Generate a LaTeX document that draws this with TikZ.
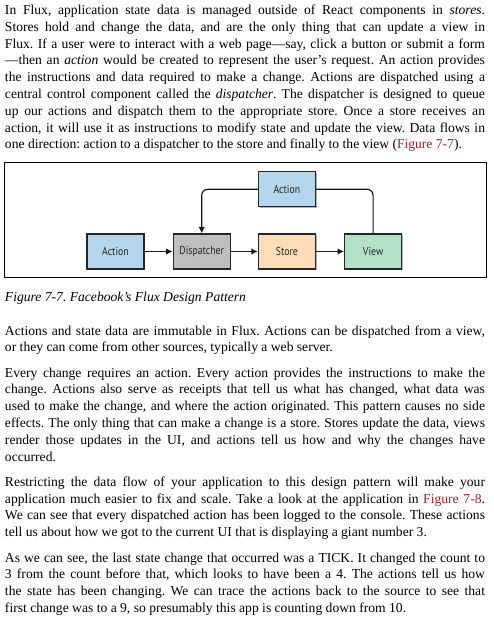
\documentclass[tikz,border=0pt]{standalone}
\usepackage{fontspec}
\setmainfont{Liberation Serif}
\newfontfamily\boxfont[FakeStretch=0.85]{PT Sans}
\usetikzlibrary{positioning, arrows.meta, shadows}

\definecolor{actionblue}{HTML}{B4D5EC}
\definecolor{dispgray}{HTML}{BEBEBE}
\definecolor{storepeach}{HTML}{FDDDB9}
\definecolor{viewgreen}{HTML}{B3E0C8}
\definecolor{linkred}{HTML}{A8232B}

\frenchspacing
\hyphenpenalty=10000
\exhyphenpenalty=10000
\tolerance=9999
\emergencystretch=20pt

\begin{document}
\begin{tikzpicture}[x=1pt, y=-1pt, >={Latex[length=6.5pt, width=6.5pt]}, semithick,
                    body/.style={anchor=base west, inner sep=0pt, text width=480pt, align=justify,
                                 font=\fontsize{13.6}{16.8}\selectfont},
                    block/.style={rectangle, draw=black!85, line width=1.2pt, inner sep=0pt,
                                  minimum width=57pt, minimum height=35pt, text=black!85,
                                  font=\boxfont\fontsize{11.5}{13}\selectfont,
                                  drop shadow={shadow xshift=1.2pt, shadow yshift=-1.2pt, opacity=0.3, fill=black}},
                    flow/.style={->, line width=1.2pt, black!90}]

  \fill[white] (0,0) rectangle (494,621);
  \useasboundingbox (0,0) rectangle (494,621);

  \node[body] (intro) at (4.7,14.5) {In Flux, application state data is managed outside of React components in \emph{stores}.\linebreak
    Stores hold and change the data, and are the only thing that can update a view in\linebreak
    Flux. If a user were to interact with a web page—say, click a button or submit a form\linebreak
    —then an \emph{action} would be created to represent the user’s request. An action provides\linebreak
    the instructions and data required to make a change. Actions are dispatched using a\linebreak
    central control component called the \emph{dispatcher}. The dispatcher is designed to queue\linebreak
    up our actions and dispatch them to the appropriate store. Once a store receives an\linebreak
    action, it will use it as instructions to modify state and update the view. Data flows in\linebreak
    one direction: action to a dispatcher to the store and finally to the view (\textcolor{linkred}{Figure 7-7}).};

  % figure frame
  \draw[line width=0.9pt] (4.5,162) rectangle (486,277);

  \node[block, fill=actionblue]                    (act)   at (115.5,251.5) {Action};
  \node[block, fill=dispgray, right=28pt of act]    (disp)  {Dispatcher};
  \node[block, fill=storepeach, right=27pt of disp] (store) {Store};
  \node[block, fill=viewgreen, right=28pt of store] (view)  {View};
  \node[block, fill=actionblue, above=26pt of store] (act2) {Action};

  \draw[flow] (act) -- (disp);
  \draw[flow] (disp) -- (store);
  \draw[flow] (store) -- (view);
  \draw[flow, rounded corners=6pt] (act2.west) -| (disp.north);
  \draw[line width=1.2pt, black!90, rounded corners=6pt] (view.north) |- (act2.east);

  \node[anchor=base west, inner sep=0pt, font=\itshape\fontsize{13.6}{16.8}\selectfont] (caption) at (4.7,301)
    {Figure 7-7. Facebook’s Flux Design Pattern};

  \node[body] (immutable) at (4.7,335) {Actions and state data are immutable in Flux. Actions can be dispatched from a view,\linebreak
    or they can come from other sources, typically a web server.};

  \node[body] (receipts) at (4.7,377) {Every change requires an action. Every action provides the instructions to make the\linebreak
    change. Actions also serve as receipts that tell us what has changed, what data was\linebreak
    used to make the change, and where the action originated. This pattern causes no side\linebreak
    effects. The only thing that can make a change is a store. Stores update the data, views\linebreak
    render those updates in the UI, and actions tell us how and why the changes have\linebreak
    occurred.};

  \node[body] (restrict) at (4.7,486.3) {Restricting the data flow of your application to this design pattern will make your\linebreak
    application much easier to fix and scale. Take a look at the application in \textcolor{linkred}{Figure 7-8}.\linebreak
    We can see that every dispatched action has been logged to the console. These actions\linebreak
    tell us about how we got to the current UI that is displaying a giant number 3.};

  \node[body] (tick) at (4.7,562) {As we can see, the last state change that occurred was a TICK. It changed the count to\linebreak
    3 from the count before that, which looks to have been a 4. The actions tell us how\linebreak
    the state has been changing. We can trace the actions back to the source to see that\linebreak
    first change was to a 9, so presumably this app is counting down from 10.};

\end{tikzpicture}
\end{document}
